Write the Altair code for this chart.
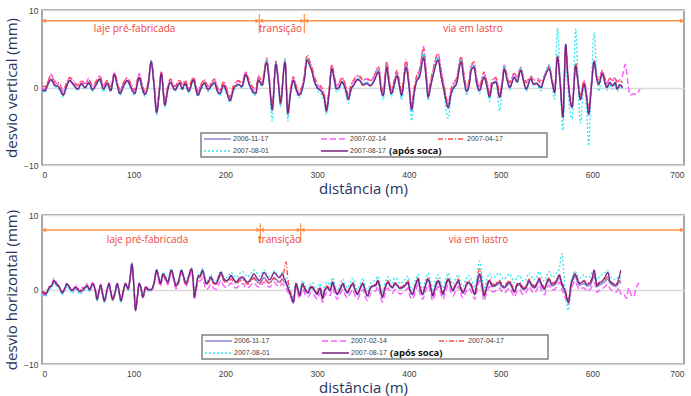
import altair as alt
import pandas as pd

SERIES = ["2006-11-17", "2007-02-14", "2007-04-17", "2007-08-01", "2007-08-17 (após soca)"]
COLORS = ["#8a86d2", "#ff5cff", "#ff4d4d", "#33e6f0", "#7b1f82"]
DASHES = [[1, 0], [6, 3], [5, 2, 1, 2], [2, 2], [1, 0]]
WIDTHS = [1.5, 1.3, 1.3, 1.5, 2.5]

X_TICKS = [0, 100, 200, 300, 400, 500, 600, 700]
Y_TICKS = [-10, -5, 0, 5, 10]
REGIONS = ["laje pré-fabricada", "transição", "via em lastro"]

# ---------------- vertical deviation (top) ----------------
TOP_D = [0, 3, 7, 10, 14, 17, 20, 23, 27, 30, 35, 39, 43, 47, 51, 55, 59, 63, 67, 71, 75, 79, 82, 85, 89, 93, 97, 101, 106, 109,
         112, 116, 119, 122, 125, 128, 130, 134, 137, 140, 145, 150, 153, 156, 160, 165, 170, 173, 177, 181, 185, 188, 191, 194, 198, 201, 205, 209, 214, 218,
         222, 226, 229, 233, 236, 240, 245, 248, 251, 255, 258, 260, 265, 268, 271, 274, 277, 280, 283, 286, 289, 292, 294, 297, 300, 305, 308, 310, 313, 316,
         319, 321, 324, 327, 331, 334, 337, 340, 344, 347, 350, 354, 358, 362, 367, 370, 372, 376, 378, 381, 384, 387, 390, 392, 397, 400, 403, 406, 408, 412,
         416, 419, 421, 424, 427, 432, 435, 438, 443, 446, 448, 452, 457, 460, 463, 466, 468, 471, 474, 477, 482, 485, 488, 491, 495, 499, 502, 504, 507, 510,
         515, 518, 522, 525, 528, 533, 536, 539, 544, 548, 553, 556, 559, 562, 565, 568, 571, 573, 575, 578, 582, 584, 587, 591, 594, 596, 599, 602, 605, 607,
         611, 614, 616, 619, 622, 625, 627, 630, 633]
TOP_P = [-0.3, -0.4, 0.6, 1.0, 0.3, 0.2, -0.3, -1.0, 0.2, 0.9, 0.3, -0.2, 0.5, 0.0, 0.6, -0.3, 0.4, 1.1, -0.2, 0.5, -0.4, 1.7, 0.3, -0.8, 0.2, 0.9, 0.0, -0.8, 1.3, 0.0,
         -0.9, 0.5, 3.3, 0.5, -3.2, -0.5, 1.8, -2.3, -0.4, 0.7, -0.3, 0.6, -0.2, 0.5, -0.5, 1.0, -1.0, -0.2, 0.6, -0.3, 0.3, 0.6, -0.4, -0.8, 0.3, -0.5, -1.7, -0.2, 0.4, 0.1,
         1.7, 0.4, -0.4, -0.8, 1.0, 0.3, 3.2, 0.5, -2.8, 3.0, 0.2, -2.0, 3.2, -3.3, -0.7, 0.9, -0.2, -1.0, -0.5, 1.0, 3.5, 2.8, 2.2, 0.8, 0.0, -0.6, -1.5, -3.0, -0.8, 2.4,
         0.8, -0.2, 0.0, 0.7, -0.3, -1.5, -0.2, 0.3, 1.0, 0.8, 0.3, 0.5, 0.2, 0.8, 2.0, -0.5, -1.0, 2.6, 0.8, -0.8, 0.3, 1.5, 0.0, -1.0, 2.6, 0.3, -2.8, -0.5, 0.6, 1.5,
         3.8, 1.0, -1.2, 0.3, 1.8, 3.5, 1.5, -0.2, -2.5, -0.8, -0.2, 0.5, 3.3, 1.0, -0.5, 0.5, 2.2, 2.6, 0.5, -0.4, 1.3, 0.2, -1.2, 0.4, 0.7, -1.2, 0.5, 2.4, 1.0, 0.0,
         1.3, 0.7, 2.2, 0.8, -0.2, 1.1, 0.4, 0.5, 0.0, 1.3, 2.4, 0.8, -0.6, 3.9, 0.5, -3.8, 5.6, 2.0, -0.8, -2.5, 2.8, 1.0, -1.5, 0.4, -1.5, -3.4, 0.0, 3.3, 1.0, 0.4,
         1.8, 0.5, 0.0, 0.6, 0.2, 0.6, -0.2, 0.3, 0.0]
TOP_B = [-0.3, -0.5, 0.5, 1.1, 0.2, 0.2, -0.4, -0.9, 0.3, 0.9, 0.2, -0.2, 0.5, 0.0, 0.7, -0.2, 0.3, 1.0, -0.2, 0.6, -0.3, 1.6, 0.4, -0.7, 0.3, 0.8, 0.1, -0.7, 1.2, 0.1,
         -0.8, 0.4, 3.4, 0.4, -3.3, -0.4, 1.7, -2.2, -0.3, 0.6, -0.3, 0.5, -0.1, 0.6, -0.4, 0.9, -0.9, -0.2, 0.5, -0.2, 0.3, 0.7, -0.3, -0.8, 0.3, -0.4, -1.6, -0.1, 0.4, 0.2,
         1.6, 0.5, -0.3, -0.7, 0.9, 0.4, 3.4, 0.6, -3.0, 3.1, 0.3, -2.2, 3.4, -3.5, -0.6, 1.0, -0.1, -0.9, -0.4, 1.1, 3.7, 2.9, 2.3, 0.9, 0.1, -0.5, -1.5, -3.1, -0.8, 2.6,
         0.9, -0.1, 0.1, 0.8, -0.2, -1.6, -0.1, 0.4, 1.1, 0.9, 0.4, 0.6, 0.3, 0.9, 2.2, -0.4, -1.1, 2.8, 1.0, -0.8, 0.4, 1.7, 0.1, -1.1, 2.9, 0.4, -3.0, -0.5, 0.7, 1.8,
         4.2, 1.2, -1.3, 0.4, 2.0, 3.8, 1.7, -0.1, -2.7, -0.8, -0.1, 0.6, 3.5, 1.2, -0.5, 0.6, 2.3, 2.8, 0.6, -0.3, 1.4, 0.3, -1.2, 0.5, 0.8, -1.3, 0.6, 2.5, 1.1, 0.1,
         1.4, 0.8, 2.3, 0.9, -0.1, 1.2, 0.5, 0.6, 0.1, 1.4, 2.6, 0.9, -0.7, 4.0, 0.5, -3.9, 5.4, 2.0, -0.9, -2.6, 2.9, 1.1, -1.6, 0.5, -1.6, -3.5, 0.1, 3.4, 1.1, 0.5,
         1.9, 0.6, 0.1, 0.7, 0.3, 0.7, -0.1, 0.4, 0.0]
TOP_M = [-0.1, -0.2, 0.9, 1.7, 0.6, 0.5, 0.0, -0.6, 0.5, 1.2, 0.6, 0.2, 0.8, 0.4, 1.2, 0.1, 0.7, 1.5, 0.2, 0.8, 0.0, 2.0, 0.6, -0.5, 0.6, 1.3, 0.3, -0.4, 1.8, 0.4,
         -0.6, 0.8, 3.5, 0.7, -3.0, -0.2, 2.0, -2.0, 0.0, 1.0, 0.1, 0.9, 0.2, 0.8, -0.2, 1.4, -0.6, 0.2, 0.9, 0.1, 0.6, 1.0, 0.0, -0.4, 0.6, -0.1, -1.3, 0.2, 0.8, 0.4,
         2.0, 0.7, 0.0, -0.4, 1.4, 0.6, 3.6, 0.8, -2.6, 3.2, 0.5, -1.8, 3.6, -3.0, -0.4, 1.2, 0.1, -0.7, -0.2, 1.5, 4.0, 3.2, 2.6, 1.2, 0.4, -0.2, -1.1, -2.7, -0.4, 2.9,
         1.2, 0.2, 0.5, 1.2, 0.2, -1.2, 0.3, 0.8, 1.5, 1.3, 0.9, 1.1, 0.8, 1.4, 2.6, 0.0, -0.7, 3.2, 1.4, -0.4, 0.8, 2.0, 0.5, -0.7, 3.3, 0.8, -2.5, -0.1, 1.1, 2.4,
         5.3, 1.8, -0.8, 0.8, 2.5, 4.3, 2.2, 0.3, -2.2, -0.4, 0.3, 1.0, 3.9, 1.6, -0.1, 1.0, 2.7, 3.1, 1.0, 0.1, 1.8, 0.7, -0.8, 0.9, 1.2, -0.8, 1.0, 2.9, 1.5, 0.6,
         1.9, 1.3, 2.6, 1.4, 0.8, 1.5, 1.0, 1.2, 0.9, 1.6, 2.8, 1.2, -0.3, 4.2, 0.8, -3.5, 5.0, 2.2, -0.5, -2.2, 3.1, 1.4, -1.2, 0.8, -1.2, -3.0, 0.4, 3.5, 1.4, 0.9,
         2.1, 1.0, 0.5, 1.1, 0.9, 1.3, 0.8, 1.0, 1.5]
TOP_M_TAIL_D = [636, 639, 641, 645, 648, 652]
TOP_M_TAIL_V = [3.0, 0.5, -1.0, -0.8, -0.9, -0.2]
TOP_R = [0.2, 0.1, 1.0, 1.6, 0.8, 0.7, 0.3, -0.4, 0.7, 1.3, 0.8, 0.3, 0.9, 0.5, 1.0, 0.2, 0.8, 1.4, 0.3, 0.9, 0.1, 1.9, 0.8, -0.3, 0.7, 1.2, 0.5, -0.3, 1.6, 0.5,
         -0.4, 0.9, 3.2, 0.9, -2.8, 0.0, 2.1, -1.8, 0.1, 1.1, 0.2, 1.0, 0.4, 0.9, 0.0, 1.3, -0.5, 0.3, 1.0, 0.2, 0.7, 1.1, 0.1, -0.3, 0.8, 0.0, -1.2, 0.3, 0.9, 0.6,
         1.9, 0.9, 0.2, -0.2, 1.5, 0.8, 3.8, 1.0, -2.3, 3.4, 0.7, -1.5, 3.5, -2.8, -0.2, 1.4, 0.3, -0.5, 0.0, 1.6, 4.2, 3.4, 2.8, 1.4, 0.6, 0.0, -1.0, -2.5, -0.2, 3.0,
         1.4, 0.4, 0.6, 1.3, 0.3, -1.0, 0.4, 1.0, 1.6, 1.4, 1.0, 1.2, 0.9, 1.5, 2.7, 0.2, -0.5, 3.4, 1.5, -0.2, 0.9, 2.2, 0.6, -0.5, 3.6, 1.0, -2.3, 0.1, 1.3, 2.5,
         5.0, 1.9, -0.6, 1.0, 2.7, 4.4, 2.4, 0.5, -2.0, -0.2, 0.5, 1.2, 4.0, 1.8, 0.1, 1.2, 2.9, 3.3, 1.2, 0.2, 2.0, 0.8, -0.6, 1.0, 1.3, -0.7, 1.1, 2.8, 1.6, 0.7,
         1.8, 1.3, 2.5, 1.3, 0.6, 1.4, 0.9, 1.0, 0.6, 1.5, 2.7, 1.2, -0.1, 4.1, 0.9, -3.3, 5.2, 2.4, -0.3, -2.0, 3.2, 1.5, -1.0, 0.9, -1.0, -2.8, 0.6, 3.4, 1.5, 1.0,
         2.2, 1.1, 0.6, 1.2, 0.9, 1.2, 0.6, 0.9, 0.6]
TOP_C = [-0.5, -0.6, 0.4, 0.9, 0.1, 0.0, -0.6, -1.2, 0.0, 0.8, 0.1, -0.4, 0.3, -0.2, 0.4, -0.5, 0.2, 0.9, -0.6, 0.3, -0.6, 1.5, 0.1, -1.0, 0.0, 0.7, -0.3, -1.0, 1.1, -0.2,
         -1.1, 0.3, 3.5, 0.3, -3.5, -0.7, 1.6, -2.6, -0.6, 0.5, -0.5, 0.4, -0.4, 0.3, -0.7, 0.8, -1.2, -0.4, 0.4, -0.5, 0.1, 0.4, -0.6, -1.1, 0.1, -0.7, -1.9, -0.4, 0.2, -0.1,
         1.5, 0.2, -0.6, -1.0, 0.8, 0.1, 3.7, 0.3, -4.3, 3.2, 0.0, -2.5, 3.8, -4.3, -1.0, 0.7, -0.4, -1.3, -0.8, 0.8, 3.8, 2.9, 2.3, 0.6, -0.3, -1.0, -2.0, -3.5, -1.2, 2.5,
         0.6, -0.6, -0.3, 0.5, -0.7, -2.0, -0.6, 0.4, 1.2, 1.0, 0.5, 0.8, 0.3, 1.1, 2.3, -0.8, -1.6, 2.8, 0.7, -1.2, 0.2, 1.6, -0.3, -1.6, 2.9, 0.2, -4.3, -1.0, 0.5, 1.8,
         4.6, 1.1, -1.7, 0.2, 2.0, 3.9, 1.6, -0.5, -4.0, -1.3, -0.5, 0.4, 3.6, 1.0, -1.0, 0.4, 2.4, 2.9, 0.4, -0.8, 1.5, 0.0, -1.8, 0.3, 0.6, -3.0, 0.5, 2.8, 1.1, -0.3,
         1.5, 0.6, 2.6, 0.7, -0.5, 1.2, 0.2, 0.4, -0.4, 1.4, 3.0, 0.5, -1.5, 7.7, 1.0, -5.5, 2.5, 0.5, -2.5, -4.0, 7.6, 2.5, -4.6, 0.0, -3.0, -7.5, 0.5, 7.1, 1.5, -0.5,
         1.6, 0.2, -0.4, 0.4, -0.2, 0.3, -0.5, 0.0, -0.2]

# ---------------- horizontal deviation (bottom) ----------------
BOT_D = [0, 4, 8, 11, 13, 16, 19, 22, 25, 27, 30, 33, 36, 38, 41, 44, 47, 49, 52, 55, 58, 60, 62, 64, 66, 68, 71, 73, 75, 77,
         80, 82, 84, 86, 89, 91, 94, 96, 98, 100, 102, 104, 106, 108, 110, 113, 116, 119, 122, 125, 127, 129, 132, 135, 137, 141, 144, 146, 149, 152,
         155, 157, 160, 163, 165, 166, 168, 170, 173, 175, 177, 179, 182, 184, 187, 190, 193, 195, 198, 201, 204, 206, 209, 212, 215, 219, 222, 224, 228, 231,
         234, 237, 240, 242, 245, 248, 251, 253, 256, 259, 262, 264, 266, 268, 270, 272, 274, 277, 279, 281, 284, 287, 290, 293, 295, 298, 300, 303, 306, 308,
         311, 314, 317, 319, 322, 325, 328, 330, 333, 336, 339, 341, 344, 347, 350, 352, 355, 358, 361, 364, 366, 369, 371, 374, 377, 380, 382, 385, 388, 390,
         393, 396, 399, 401, 404, 407, 410, 412, 415, 418, 421, 424, 426, 429, 432, 435, 437, 440, 443, 446, 448, 451, 454, 456, 459, 462, 465, 468, 472, 474,
         477, 480, 482, 485, 488, 491, 493, 496, 499, 501, 504, 507, 510, 512, 515, 518, 521, 523, 526, 529, 531, 534, 537, 540, 542, 545, 548, 550, 553, 556,
         559, 561, 564, 567, 570, 572, 574, 577, 579, 581, 584, 586, 589, 591, 594, 597, 600, 602, 604, 605, 608, 611, 614, 617, 619, 622, 625, 627, 629, 631]
BOT_P = [-0.3, -0.6, 0.3, 0.6, 1.2, 0.7, 0.3, -0.4, 0.2, 0.8, 0.3, -0.1, 0.3, 0.2, -0.2, -0.1, 0.3, 0.5, 0.0, 0.8, 0.0, -1.3, -0.3, 0.6, -0.5, -1.5, 0.0, 0.8, -0.3, -1.3,
         -0.2, 0.8, -0.2, -1.5, 0.0, 0.8, 0.1, 1.5, 3.4, 0.8, -2.8, -1.0, 0.8, 0.2, -1.0, 0.3, 0.0, 0.0, 0.8, 2.6, 1.8, 0.8, 2.1, 1.5, 1.0, 2.6, 1.4, 0.5, 1.2, 2.6,
         1.5, 0.8, 1.8, 2.8, 1.0, -1.0, 0.2, 1.7, 2.0, 2.6, 1.8, 0.8, 1.2, 1.7, 1.0, 0.8, 1.8, 2.3, 1.5, 1.2, 1.5, 1.9, 1.4, 1.0, 1.5, 1.7, 1.2, 1.0, 1.5, 2.1,
         1.6, 1.2, 1.8, 2.3, 1.8, 1.3, 1.8, 2.3, 1.9, 1.6, 2.1, 1.5, 1.0, 0.3, -0.4, -1.0, -1.7, 0.8, 0.0, -0.8, 0.8, 0.0, -0.4, 0.3, 0.3, -0.3, -0.6, 0.2, -1.2, -0.2,
         0.3, -0.1, 1.0, 0.2, -0.6, 0.0, 0.8, 0.2, -0.4, 0.3, 0.8, 0.1, -0.6, 0.2, 0.8, 0.0, -0.8, 0.2, 0.5, 0.6, 1.2, 0.0, -1.0, 0.2, 1.0, 0.5, 0.3, 0.8, 0.5, 0.2,
         0.3, 0.6, 1.0, 0.0, -0.6, 0.5, 1.4, 0.3, -0.6, 0.5, 1.4, 0.2, -0.8, 0.4, 1.2, 0.2, -0.6, 0.5, 1.4, 0.4, -0.1, 0.6, 1.2, 0.4, -0.4, 0.4, 1.0, 0.5, -0.6, 0.6,
         2.1, 0.5, -0.8, 0.4, 1.2, 0.5, 0.5, 0.8, 1.0, 0.6, 0.3, 0.7, 1.0, 0.5, -0.3, 0.6, 0.8, 0.3, 0.1, 0.7, 1.2, 0.6, 0.3, 0.9, 1.4, 0.6, 0.1, 0.8, 1.4, 0.7,
         0.8, 1.2, 1.9, 0.7, -0.1, -1.0, -1.7, 0.8, 1.5, 2.1, 1.3, 0.8, 1.0, 1.1, 0.7, 0.8, 1.6, 2.6, 1.2, 0.5, 0.9, 1.1, 1.7, 2.3, 1.2, 0.8, 0.6, 0.8, 1.5, 2.6]
BOT_B = [-0.4, -0.6, 0.2, 0.5, 1.1, 0.6, 0.3, -0.5, 0.1, 0.7, 0.2, -0.2, 0.2, 0.1, -0.3, -0.2, 0.2, 0.4, -0.1, 0.7, -0.1, -1.4, -0.4, 0.5, -0.6, -1.6, -0.1, 0.7, -0.4, -1.4,
         -0.3, 0.7, -0.3, -1.6, -0.1, 0.7, 0.0, 1.4, 3.5, 0.9, -2.7, -1.0, 0.7, 0.1, -1.1, 0.2, -0.1, -0.1, 0.8, 2.6, 1.7, 0.8, 2.0, 1.4, 0.9, 2.5, 1.3, 0.5, 1.1, 2.5,
         1.4, 0.7, 1.7, 2.7, 0.9, -0.9, 0.2, 1.6, 1.9, 2.5, 1.7, 0.8, 1.1, 1.6, 0.9, 0.8, 1.7, 2.2, 1.4, 1.1, 1.4, 1.8, 1.3, 0.9, 1.3, 1.5, 1.1, 0.9, 1.3, 1.6,
         1.2, 0.9, 1.3, 1.6, 1.2, 0.9, 1.3, 1.6, 1.3, 1.0, 1.4, 1.0, 0.8, 0.2, -0.5, -1.1, -1.8, 0.6, -0.1, -0.9, 0.6, -0.2, -0.5, 0.2, 0.1, -0.4, -0.7, 0.1, -1.2, -0.3,
         0.2, -0.2, 0.8, 0.1, -0.7, -0.1, 0.6, 0.1, -0.5, 0.2, 0.6, 0.0, -0.7, 0.1, 0.7, -0.1, -0.9, 0.1, 0.4, 0.5, 1.0, -0.1, -1.1, 0.1, 0.9, 0.4, 0.2, 0.7, 0.4, 0.1,
         0.2, 0.5, 0.8, -0.1, -0.7, 0.4, 1.2, 0.2, -0.7, 0.4, 1.2, 0.1, -0.9, 0.3, 1.0, 0.1, -0.7, 0.4, 1.2, 0.3, -0.2, 0.5, 1.0, 0.3, -0.5, 0.3, 0.9, 0.4, -0.7, 0.5,
         1.8, 0.4, -0.9, 0.3, 1.0, 0.4, 0.4, 0.6, 0.8, 0.4, 0.2, 0.5, 0.8, 0.4, -0.4, 0.5, 0.6, 0.2, 0.0, 0.5, 1.0, 0.4, 0.2, 0.7, 1.2, 0.4, 0.0, 0.6, 1.2, 0.5,
         0.6, 1.0, 1.6, 0.5, -0.3, -1.1, -1.8, 0.6, 1.3, 1.8, 1.0, 0.6, 0.7, 0.8, 0.5, 0.5, 1.2, 1.8, 0.9, 0.4, 0.6, 0.8, 1.1, 1.4, 0.9, 0.6, 0.4, 0.5, 1.0, 0.8]
BOT_M = [-0.5, -0.8, 0.1, 0.7, 1.5, 0.9, 0.4, -0.6, 0.0, 0.6, 0.1, -0.3, 0.1, 0.6, -0.4, 0.3, 0.0, 0.8, -0.2, 0.9, 0.2, -1.1, -0.2, 0.7, -0.4, -1.3, 0.1, 0.9, -0.2, -1.2,
         -0.1, 0.9, -0.1, -1.4, 0.1, 0.9, 0.2, 1.6, 3.2, 0.7, -2.6, -0.9, 0.9, 0.3, -0.9, 0.4, 0.1, -0.2, 0.5, 2.3, 1.4, 0.4, 1.8, 1.1, 0.6, 2.2, 1.0, 0.1, 0.8, 2.2,
         1.1, 0.4, 1.4, 2.4, 0.5, -1.4, -0.3, 1.0, 1.2, 1.5, 0.8, 0.0, 0.3, 0.7, 0.2, 0.0, 0.8, 1.2, 0.5, 0.3, 0.6, 0.9, 0.4, 0.2, 0.6, 0.8, 0.3, 0.2, 0.6, 0.9,
         0.5, 0.3, 0.7, 1.0, 0.6, 0.3, 0.7, 1.0, 0.6, 0.4, 0.8, 0.5, 0.2, -0.3, -0.8, -1.3, -1.8, 0.2, -0.6, -1.2, 0.1, -0.7, -1.0, -0.4, -0.5, -1.0, -1.3, -0.5, -1.7, -0.9,
         -0.4, -0.8, 0.2, -0.6, -1.3, -0.7, 0.0, -0.6, -1.1, -0.5, 0.0, -0.7, -1.3, -0.5, 0.0, -0.8, -1.5, -0.6, -0.3, -0.2, 0.4, -0.8, -1.7, -0.6, 0.2, -0.3, -0.5, 0.0, -0.3, -0.6,
         -0.5, -0.2, 0.2, -0.8, -1.3, -0.3, 0.6, -0.5, -1.3, -0.3, 0.6, -0.6, -1.5, -0.4, 0.4, -0.6, -1.3, -0.3, 0.6, -0.4, -0.9, -0.2, 0.4, -0.4, -1.1, -0.4, 0.2, -0.3, -1.3, -0.2,
         1.2, -0.3, -1.5, -0.4, 0.4, -0.3, -0.3, 0.0, 0.2, -0.2, -0.5, -0.1, 0.2, -0.3, -1.0, -0.2, 0.0, -0.5, -0.7, -0.1, 0.4, -0.2, -0.5, 0.1, 0.6, -0.2, -0.7, 0.0, 0.6, -0.1,
         0.0, 0.4, 1.0, -0.1, -0.9, -1.6, -2.0, 0.0, 0.7, 1.1, 0.4, 0.0, 0.2, 0.2, -0.2, -0.1, 0.5, 0.9, 0.2, -0.4, -0.1, 0.1, 0.4, 0.7, 0.2, -0.2, -0.4, -0.2, 0.3, -0.6]
BOT_M_TAIL_D = [634, 637, 640, 642, 645, 648, 651]
BOT_M_TAIL_V = [-0.5, -1.2, 0.2, -0.6, -1.0, 0.3, 0.9]
BOT_R = [-0.2, -0.4, 0.4, 0.5, 1.0, 0.6, 0.2, -0.3, 0.2, 0.7, 0.3, 0.0, 0.3, 0.2, -0.1, 0.0, 0.3, 0.5, 0.1, 0.6, -0.1, -1.5, -0.4, 0.5, -0.6, -1.7, -0.1, 0.6, -0.5, -1.5,
         -0.3, 0.7, -0.3, -1.6, -0.1, 0.7, 0.0, 1.4, 3.3, 0.8, -2.5, -0.9, 0.6, 0.1, -1.1, 0.2, -0.1, 0.0, 0.7, 2.4, 1.6, 0.7, 1.9, 1.3, 0.8, 2.4, 1.2, 0.4, 1.0, 2.4,
         1.3, 0.6, 1.6, 2.6, 0.8, -1.0, 0.0, 1.4, 1.7, 2.2, 1.5, 0.6, 1.0, 1.4, 0.8, 0.7, 1.5, 2.0, 1.2, 0.9, 1.1, 1.4, 1.0, 0.8, 1.1, 1.3, 0.9, 0.7, 1.1, 1.5,
         1.0, 0.7, 1.2, 1.5, 1.1, 0.8, 1.2, 1.5, 1.1, 0.9, 1.6, 2.5, 3.7, 1.5, 0.0, -0.6, -1.3, 0.7, 0.0, -0.6, 0.8, 0.1, -0.3, 0.4, 0.4, -0.2, -0.5, 0.3, -1.0, -0.1,
         0.5, 0.0, 1.1, 0.3, -0.5, 0.2, 0.9, 0.3, -0.3, 0.4, 0.9, 0.2, -0.5, 0.3, 0.9, 0.1, -0.7, 0.3, 0.6, 0.7, 1.3, 0.1, -0.9, 0.3, 1.2, 0.6, 0.4, 0.9, 0.6, 0.3,
         0.4, 0.8, 1.2, 0.1, -0.5, 0.7, 1.6, 0.5, -0.5, 0.7, 1.6, 0.4, -0.6, 0.6, 1.4, 0.4, -0.4, 0.7, 1.6, 0.6, 0.1, 0.8, 1.4, 0.6, -0.2, 0.6, 1.2, 0.7, -0.4, 0.9,
         2.8, 0.8, -0.6, 0.6, 1.4, 0.7, 0.7, 1.0, 1.2, 0.8, 0.5, 0.9, 1.2, 0.7, -0.1, 0.8, 1.0, 0.5, 0.3, 0.9, 1.4, 0.8, 0.5, 1.1, 1.6, 0.8, 0.3, 1.0, 1.6, 0.9,
         1.0, 1.4, 2.0, 0.9, 0.1, -0.8, -1.4, 1.0, 1.6, 2.2, 1.4, 1.0, 1.1, 1.2, 0.9, 0.9, 1.6, 2.2, 1.3, 0.7, 1.0, 1.2, 1.4, 1.7, 1.2, 0.9, 0.7, 0.8, 1.2, 1.0]
BOT_C = [-0.7, -0.9, 0.0, 0.4, 1.0, 0.5, 0.1, -0.7, -0.1, 0.5, 0.0, -0.5, 0.0, -0.1, -0.6, -0.4, 0.1, 0.3, -0.3, 0.6, -0.2, -1.5, -0.5, 0.4, -0.7, -1.7, -0.2, 0.6, -0.5, -1.5,
         -0.4, 0.6, -0.4, -1.7, -0.2, 0.6, -0.1, 1.4, 3.6, 0.9, -2.9, -1.1, 0.7, 0.0, -1.2, 0.1, -0.2, -0.2, 0.9, 2.8, 1.9, 1.0, 2.3, 1.7, 1.1, 2.8, 1.6, 0.7, 1.4, 2.7,
         1.7, 1.0, 2.0, 2.9, 1.1, -0.8, 0.4, 1.9, 2.2, 2.8, 2.0, 1.0, 1.5, 2.0, 1.3, 1.2, 2.1, 2.5, 1.8, 1.6, 2.0, 2.3, 1.9, 1.6, 2.1, 2.4, 1.9, 1.7, 2.2, 2.6,
         2.2, 1.8, 2.2, 2.6, 2.1, 1.7, 2.0, 2.5, 2.1, 1.8, 2.3, 1.7, 1.4, 0.8, 0.0, -0.6, -1.2, 1.0, 0.4, -0.4, 1.2, 0.5, 0.1, 0.8, 0.9, 0.3, 0.0, 0.8, -0.6, 0.4,
         1.0, 0.6, 1.6, 0.8, 0.0, 0.6, 1.4, 0.8, 0.2, 0.9, 1.5, 0.7, 0.0, 0.8, 1.5, 0.6, -0.2, 0.8, 1.1, 1.3, 1.8, 0.6, -0.4, 0.8, 1.7, 1.1, 0.9, 1.6, 1.2, 0.8,
         1.0, 1.4, 1.8, 0.7, 0.0, 1.2, 2.0, 1.0, 0.1, 1.2, 2.2, 1.0, 0.0, 1.2, 2.0, 1.0, 0.2, 1.3, 2.2, 1.2, 0.7, 1.4, 2.0, 1.2, 0.4, 1.3, 1.9, 1.4, 0.3, 1.5,
         3.8, 1.6, 0.2, 1.4, 2.2, 1.5, 1.6, 2.0, 2.2, 1.7, 1.4, 1.8, 2.1, 1.6, 0.9, 1.6, 1.9, 1.3, 1.1, 1.7, 2.2, 1.6, 1.3, 1.9, 2.4, 1.6, 1.1, 1.8, 2.4, 1.7,
         1.8, 2.2, 2.8, 4.8, 0.6, -1.5, -2.8, 1.2, 2.0, 2.5, 1.9, 1.5, 1.8, 2.0, 1.6, 1.7, 2.3, 2.5, 1.8, 1.3, 1.7, 2.0, 2.3, 2.6, 1.8, 1.5, 1.3, 1.4, 1.8, 1.5]

# ---------------- region annotations ----------------
ARROW_SPAN = [0, 700]
TOP_BOUNDS = [237, 286]
BOT_BOUNDS = [238, 282]
TOP_ARROW_Y = 8.6
BOT_ARROW_Y = 8.0
TOP_BAR_Y = [9.5, 7.0]
BOT_BAR_Y = [8.9, 6.3]
TOP_LABEL_X = [101, 260, 470]
BOT_LABEL_X = [115, 259, 476]
TOP_LABEL_Y = 7.5
BOT_LABEL_Y = 6.7

ORANGE = "#ff8f45"
LABEL_RED = "#f2413a"
TITLE_COLOR = "#1f3360"
PLOT_W = 642

# legend layout (pixels inside the plot area)
LEG_W = 346
LEG_H = 24
LEG_PITCH = 117
LEG_SYM = 27
LEG_ROW = 12


def make_panel(dist, vals, tail_d, tail_v, bounds, arrow_y, bar_y, label_x, label_y,
               ytitle, h, lx, ly):
    rows = []
    for name, v in zip(SERIES, vals):
        for d, y in zip(dist, v):
            rows.append({"d": d, "v": y, "s": name})
        if name == SERIES[1]:
            for d, y in zip(tail_d, tail_v):
                rows.append({"d": d, "v": y, "s": name})
    df = pd.DataFrame(rows)

    def px2d(px):
        return px * 700.0 / PLOT_W

    def py2v(py):
        return 10.0 - py * 20.0 / h

    cscale = alt.Scale(domain=SERIES, range=COLORS)
    dscale = alt.Scale(domain=SERIES, range=DASHES)
    wscale = alt.Scale(domain=SERIES, range=WIDTHS)

    x = alt.X("d:Q", scale=alt.Scale(domain=[0, 700], nice=False),
              axis=alt.Axis(values=X_TICKS, title="distância (m)", grid=False,
                            labelPadding=5, titlePadding=3))
    y = alt.Y("v:Q", scale=alt.Scale(domain=[-10, 10], nice=False),
              axis=alt.Axis(values=Y_TICKS, title=ytitle, grid=True,
                            labelPadding=4, titlePadding=4))

    lines = alt.Chart(df).mark_line(interpolate="monotone", clip=True).encode(
        x=x, y=y,
        color=alt.Color("s:N", scale=cscale, legend=None),
        strokeDash=alt.StrokeDash("s:N", scale=dscale, legend=None),
        strokeWidth=alt.StrokeWidth("s:N", scale=wscale, legend=None),
    )

    arrow_df = pd.DataFrame({"d": [ARROW_SPAN[0]], "d2": [ARROW_SPAN[1]], "v": [arrow_y]})
    arrow = alt.Chart(arrow_df).mark_rule(color=ORANGE, strokeWidth=1.5).encode(
        x="d:Q", x2="d2:Q", y="v:Q")

    bars_df = pd.DataFrame({"d": bounds, "v": [bar_y[0]] * len(bounds), "v2": [bar_y[1]] * len(bounds)})
    bars = alt.Chart(bars_df).mark_rule(color=ORANGE, strokeWidth=1.2).encode(
        x="d:Q", y="v:Q", y2="v2:Q")

    head_x, head_s = [ARROW_SPAN[0] + 2], ["triangle-left"]
    for b in bounds:
        head_x += [b - 2, b + 2]
        head_s += ["triangle-right", "triangle-left"]
    head_x.append(ARROW_SPAN[1] - 2)
    head_s.append("triangle-right")
    heads_df = pd.DataFrame({"d": head_x, "v": [arrow_y] * len(head_x), "sh": head_s})
    heads = alt.Chart(heads_df).mark_point(filled=True, size=22, opacity=1, color=ORANGE).encode(
        x="d:Q", y="v:Q", shape=alt.Shape("sh:N", scale=None))

    text_df = pd.DataFrame({"d": label_x, "v": [label_y] * 3, "t": REGIONS})
    texts = alt.Chart(text_df).mark_text(color=LABEL_RED, fontSize=10, font="Open Sans").encode(
        x="d:Q", y="v:Q", text="t:N")

    # legend box drawn inside the plot area
    box_df = pd.DataFrame({"d": [px2d(lx)], "d2": [px2d(lx + LEG_W)],
                           "v": [py2v(ly)], "v2": [py2v(ly + LEG_H)]})
    box = alt.Chart(box_df).mark_rect(fill="white", stroke="#808080", strokeWidth=1.5).encode(
        x="d:Q", x2="d2:Q", y="v:Q", y2="v2:Q")

    leg_rows = []
    for i, name in enumerate(SERIES):
        col, row = i % 3, i // 3
        x0 = lx + 3 + col * LEG_PITCH
        y0 = ly + 6 + row * LEG_ROW
        base, _, note = name.partition(" (")
        leg_rows.append({"s": name, "d": px2d(x0), "d2": px2d(x0 + LEG_SYM), "v": py2v(y0),
                         "dt": px2d(x0 + LEG_SYM + 2), "t": base,
                         "dn": px2d(x0 + LEG_SYM + 41), "n": ("(" + note) if note else ""})
    leg_df = pd.DataFrame(leg_rows)
    leg_lines = alt.Chart(leg_df).mark_rule().encode(
        x="d:Q", x2="d2:Q", y="v:Q",
        color=alt.Color("s:N", scale=cscale, legend=None),
        strokeDash=alt.StrokeDash("s:N", scale=dscale, legend=None),
        strokeWidth=alt.StrokeWidth("s:N", scale=wscale, legend=None),
    )
    leg_text = alt.Chart(leg_df).mark_text(align="left", baseline="middle", fontSize=7,
                                           font="Liberation Sans", color="#404040").encode(
        x="dt:Q", y="v:Q", text="t:N")
    leg_note = alt.Chart(leg_df).mark_text(align="left", baseline="middle", fontSize=9.5,
                                           font="Open Sans", fontWeight="bold", color="#111111").encode(
        x="dn:Q", y="v:Q", text="n:N")

    return alt.layer(lines, arrow, bars, heads, texts, box, leg_lines, leg_text, leg_note).properties(
        width=PLOT_W, height=h)


top = make_panel(TOP_D, [TOP_B, TOP_M, TOP_R, TOP_C, TOP_P], TOP_M_TAIL_D, TOP_M_TAIL_V,
                 TOP_BOUNDS, TOP_ARROW_Y, TOP_BAR_Y, TOP_LABEL_X, TOP_LABEL_Y,
                 "desvio vertical (mm)", 155, 159, 123)
bottom = make_panel(BOT_D, [BOT_B, BOT_M, BOT_R, BOT_C, BOT_P], BOT_M_TAIL_D, BOT_M_TAIL_V,
                    BOT_BOUNDS, BOT_ARROW_Y, BOT_BAR_Y, BOT_LABEL_X, BOT_LABEL_Y,
                    "desvio horizontal (mm)", 149, 160, 120)

chart = alt.vconcat(top, bottom, spacing=10).properties(
    padding={"left": 3, "top": 5, "right": 0, "bottom": 0}, background="white"
).configure_view(stroke="#8c8c8c", strokeWidth=1.5).configure_axis(
    labelFont="Liberation Sans", labelFontSize=8.5, labelColor="#404040",
    titleFont="Open Sans", titleFontSize=15, titleColor=TITLE_COLOR, titleFontWeight="normal",
    domain=False, ticks=False, gridColor="#d9d9d9", gridWidth=1.5,
)

chart.save("out.html", embed_options={"renderer": "svg", "actions": False})
